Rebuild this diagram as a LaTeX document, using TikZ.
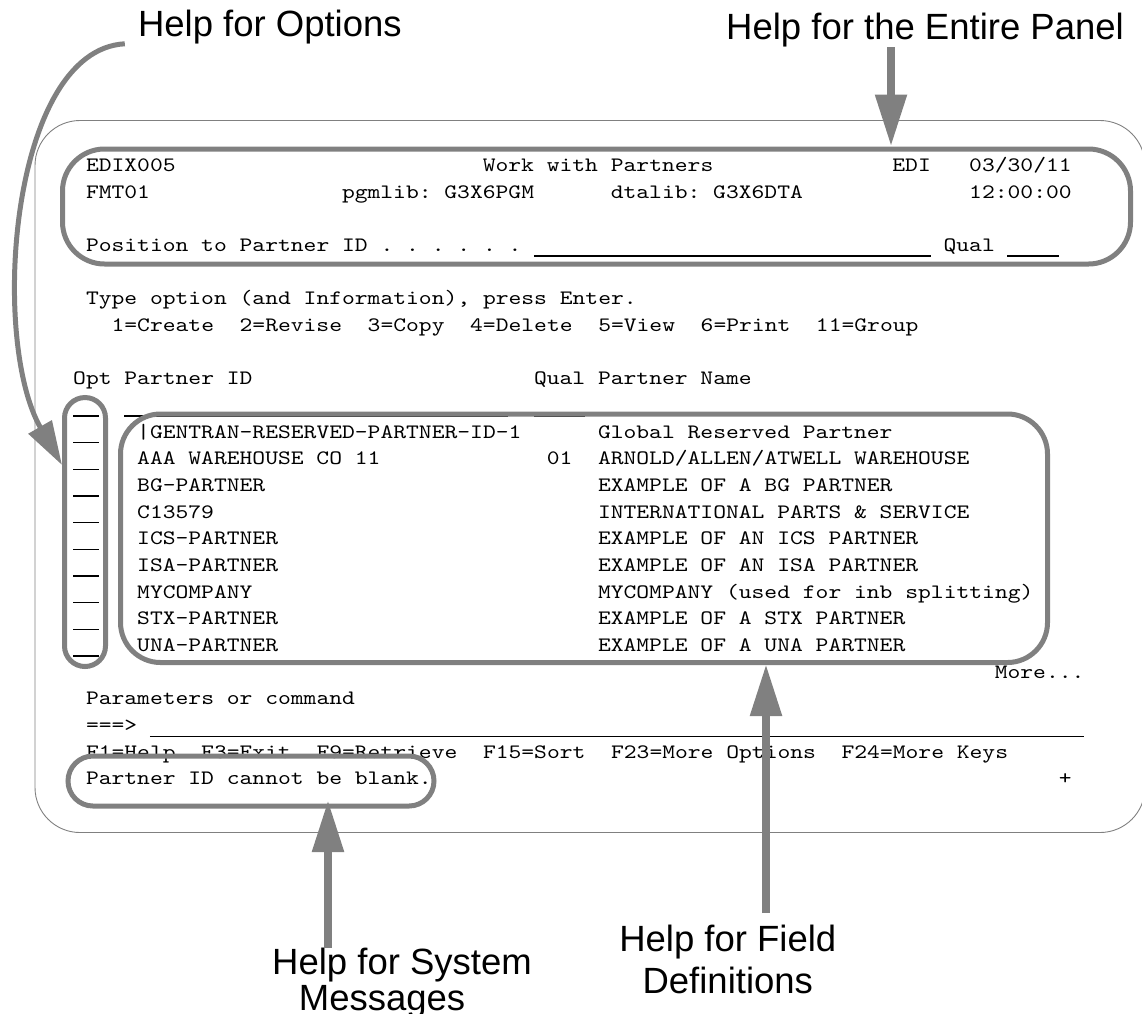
\documentclass[tikz,border=0pt]{standalone}
\usepackage{fontspec}
\usepackage{tikz}
\usetikzlibrary{arrows.meta, calc}
\newfontfamily\helpfont{Liberation Sans}
\newfontfamily\screenfont[FakeStretch=1.19]{lmmono10-regular.otf}
\definecolor{hlgray}{RGB}{128,128,128}
\tikzset{
  scr/.style={font=\screenfont\fontsize{20.5}{24}\selectfont\frenchspacing, anchor=base west, inner sep=0pt},
  uline/.style={line width=1.3pt},
  hlbox/.style={draw=hlgray, line width=5pt, inner sep=0pt, rounded corners=#1},
  helptext/.style={font=\helpfont\fontsize{36.5}{41.6}\selectfont, inner sep=0pt},
  helparrow/.style={draw=hlgray, line width=8.5pt, -{Triangle[length=52pt, width=30pt]}},
}

\begin{document}
\begin{tikzpicture}[x=1pt, y=-1pt]
\useasboundingbox (0,0) rectangle (1142,1013);
% screen frame
\draw[black!50, line width=0.9pt, rounded corners=45pt] (35,120.5) rectangle (1145,832.5);

% screen text, one unit = one character cell
\begin{scope}[shift={(60.2,144.83)}, x=12.8pt, y=-26.67pt]
\node[scr] (pgm) at (2,1) {EDIX005};
\node[scr] (title) at (33,1) {Work with Partners};
\node[scr] (sys) at (65,1) {EDI};
\node[scr] (date) at (71,1) {03/30/11};
\node[scr] (fmt) at (2,2) {FMT01};
\node[scr] (pgmlib) at (22,2) {pgmlib: G3X6PGM};
\node[scr] (dtalib) at (43,2) {dtalib: G3X6DTA};
\node[scr] (time) at (71,2) {12:00:00};
\node[scr] (posto) at (2,4) {Position to Partner ID . . . . . .};
\node[scr] (posqual) at (69,4) {Qual};
\draw[uline] (37,4.17) -- (68,4.17);
\draw[uline] (74,4.17) -- (78,4.17);
\node[scr] (typeopt) at (2,6) {Type option (and Information), press Enter.};
\node[scr] (opts) at (4,7) {1=Create~~2=Revise~~3=Copy~~4=Delete~~5=View~~6=Print~~11=Group};
\node[scr] (hdid) at (1,9) {Opt Partner ID};
\node[scr] (hdname) at (37,9) {Qual Partner Name};
\foreach \r in {10,...,19}
  \draw[uline] (1,\r+0.17) -- (3,\r+0.17);
\draw[uline] (5,10.17) -- (35,10.17);
\draw[uline] (37,10.17) -- (41,10.17);
\node[scr] (id1) at (6,11) {|GENTRAN-RESERVED-PARTNER-ID-1};
\node[scr] (nm1) at (42,11) {Global Reserved Partner};
\node[scr] (id2) at (6,12) {AAA WAREHOUSE CO 11};
\node[scr] (ql2) at (38,12) {01};
\node[scr] (nm2) at (42,12) {ARNOLD/ALLEN/ATWELL WAREHOUSE};
\node[scr] (id3) at (6,13) {BG-PARTNER};
\node[scr] (nm3) at (42,13) {EXAMPLE OF A BG PARTNER};
\node[scr] (id4) at (6,14) {C13579};
\node[scr] (nm4) at (42,14) {INTERNATIONAL PARTS \& SERVICE};
\node[scr] (id5) at (6,15) {ICS-PARTNER};
\node[scr] (nm5) at (42,15) {EXAMPLE OF AN ICS PARTNER};
\node[scr] (id6) at (6,16) {ISA-PARTNER};
\node[scr] (nm6) at (42,16) {EXAMPLE OF AN ISA PARTNER};
\node[scr] (id7) at (6,17) {MYCOMPANY};
\node[scr] (nm7) at (42,17) {MYCOMPANY (used for inb splitting)};
\node[scr] (id8) at (6,18) {STX-PARTNER};
\node[scr] (nm8) at (42,18) {EXAMPLE OF A STX PARTNER};
\node[scr] (id9) at (6,19) {UNA-PARTNER};
\node[scr] (nm9) at (42,19) {EXAMPLE OF A UNA PARTNER};
\node[scr] (more) at (73,20) {More...};
\node[scr] (parm) at (2,21) {Parameters or command};
\node[scr] (cmd) at (2,22) {===>};
\draw[uline] (7,22.19) -- (80,22.19);
\node[scr] (fkeys) at (2,23) {F1=Help~~F3=Exit~~F9=Retrieve~~F15=Sort~~F23=More Options~~F24=More Keys};
\node[scr] (msg) at (2,24) {Partner ID cannot be blank.};
\node[scr] (plus) at (78,24) {+};
\end{scope}

% highlight boxes
\node[hlbox=42pt, minimum width=1068pt, minimum height=115pt] (hdrbox) at (596.5,206.5) {};
\node[hlbox=20.5pt, minimum width=41pt, minimum height=269pt] (optbox) at (85,532) {};
\node[hlbox=40pt, minimum width=927pt, minimum height=248.5pt] (listbox) at (584,538.25) {};
\node[hlbox=25pt, minimum width=366pt, minimum height=50pt] (msgbox) at (251,781) {};

% help labels
\node[helptext, anchor=base west] (opthelp) at (137.8,36) {Help for Options};
\node[helptext, anchor=base west] (panelhelp) at (726,39.3) {Help for the Entire Panel};
\node[helptext, anchor=north west, align=left, font=\helpfont\fontsize{36.5}{33}\selectfont] (msghelp) at (272,947.5) {Help for System\\[3pt]\hspace*{26.7pt}Messages};
\node[helptext, anchor=north, align=center] (fieldhelp) at (727.8,925.2) {Help for Field\\Definitions};

% arrows
\coordinate (panelpt) at (891,146.5);
\coordinate (optpt) at (62,465);
\coordinate (msgpt) at (328,800);
\coordinate (fieldpt) at (766,664);
\draw[helparrow] (panelhelp.south -| panelpt) -- (panelpt);
\draw[helparrow, line width=5pt, -{Triangle[length=44pt, width=26pt]}] ([xshift=-13pt]opthelp.south west) .. controls (10,50) and (-10,340) .. (optpt);
\draw[helparrow] (msghelp.north -| msgpt) -- (msgpt);
\draw[helparrow] ($(fieldhelp.north -| fieldpt)+(0,-12)$) -- (fieldpt);
\end{tikzpicture}
\end{document}
